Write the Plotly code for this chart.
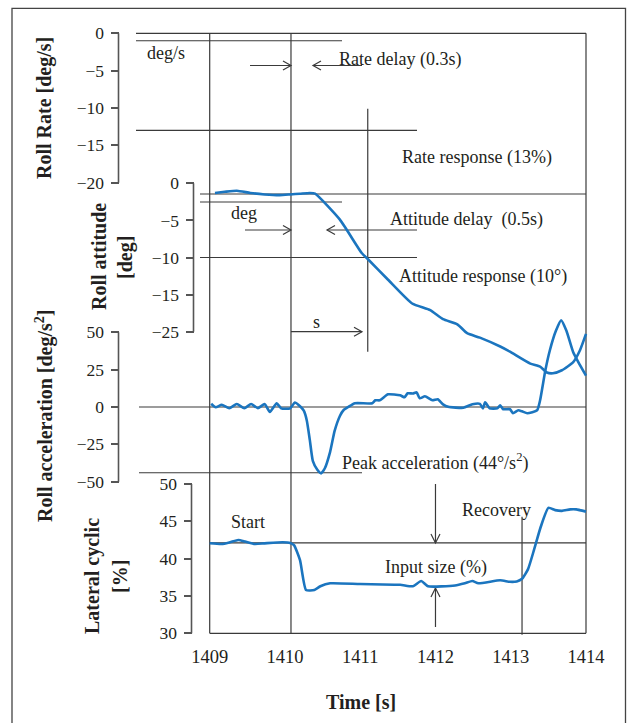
import plotly.graph_objects as go

# ---------------- data ----------------
time_ticks = [1409, 1410, 1411, 1412, 1413, 1414]

rate_ticks = [0, -5, -10, -15, -20]
att_ticks = [0, -5, -10, -15, -20]
att_ticktext = ["0", "\u22125", "\u221210", "\u221215", "\u221225"]
acc_ticks = [50, 25, 0, -25, -50]
cyc_ticks = [50, 45, 40, 35, 30]

att_t = [1409.07, 1409.20, 1409.36, 1409.54, 1409.73, 1409.93, 1410.07, 1410.20, 1410.33, 1410.40,
         1410.73, 1411.02, 1411.10, 1411.37, 1411.69, 1411.93, 1412.10, 1412.29, 1412.42, 1412.59,
         1412.86, 1412.99, 1413.26, 1413.39, 1413.48, 1413.56, 1413.68, 1413.83, 1413.92, 1414.00]
att_v = [-1.3, -1.15, -1.0, -1.3, -1.5, -1.6, -1.5, -1.4, -1.3, -1.4,
         -4.9, -9.4, -10.2, -13.0, -16.2, -17.1, -18.3, -19.0, -20.2, -20.8,
         -22.0, -22.7, -24.3, -24.7, -25.5, -25.6, -25.2, -24.1, -22.5, -20.3]

acc_t = [1409.02, 1409.08, 1409.16, 1409.26, 1409.36, 1409.46, 1409.55, 1409.64, 1409.73, 1409.80,
         1409.89, 1409.95, 1410.07, 1410.13, 1410.20, 1410.25, 1410.29, 1410.33, 1410.37, 1410.43,
         1410.48, 1410.53, 1410.60, 1410.66, 1410.73, 1410.78, 1410.84, 1410.93, 1411.16, 1411.20,
         1411.26, 1411.37, 1411.53, 1411.59, 1411.63, 1411.70, 1411.75, 1411.79, 1411.86, 1411.96,
         1412.03, 1412.10, 1412.17, 1412.37, 1412.49, 1412.59, 1412.63, 1412.66, 1412.72, 1412.82,
         1412.86, 1412.90, 1412.99, 1413.03, 1413.10, 1413.15, 1413.22, 1413.35, 1413.39, 1413.46,
         1413.52, 1413.60, 1413.67, 1413.74, 1413.83, 1413.92, 1414.00]
acc_v = [2.2, -0.2, 1.5, -0.8, 2.0, -0.8, 2.0, -0.8, 2.0, -3.3,
         2.5, -0.9, -0.9, 3.0, 0.5, -2.5, -9, -22, -36, -42,
         -44.4, -41, -30, -16, -6, -2, 0, 2.5, 2.5, 4.5,
         4.5, 8.5, 7.8, 6.5, 9.2, 9.0, 9.8, 5.8, 7.2, 4.5,
         5.2, 1.8, 0.1, -0.5, 1.8, 2.1, -0.9, 3.1, -0.9, -0.9,
         1.1, -1.5, -1.5, -4.2, -2.2, -2.9, -4.2, -2.2, 4.5, 24.6,
         38, 51, 58, 51, 36.6, 28, 21]

cyc_t = [1409.00, 1409.16, 1409.27, 1409.38, 1409.47, 1409.60, 1409.73, 1409.97, 1410.07, 1410.12,
         1410.20, 1410.28, 1410.39, 1410.47, 1410.60, 1411.00, 1411.53, 1411.70, 1411.81, 1411.90,
         1412.26, 1412.39, 1412.49, 1412.57, 1412.86, 1412.99, 1413.08, 1413.15, 1413.23, 1413.31,
         1413.40, 1413.50, 1413.59, 1413.68, 1413.79, 1413.87, 1414.00]
cyc_v = [42.06, 41.96, 42.2, 42.5, 42.3, 41.96, 42.05, 42.2, 42.1, 41.8,
         39.8, 35.8, 35.8, 36.3, 36.7, 36.6, 36.5, 36.3, 37.0, 36.3,
         36.4, 36.7, 37.0, 36.7, 37.1, 36.9, 36.95, 37.3, 38.6, 41.2,
         44.3, 46.8, 46.5, 46.4, 46.6, 46.6, 46.3]

# reference levels / times used by the annotation lines
rate_delay_level = -1
rate_response_level = -13
att_start_level = -1.44
att_delay_level = -2.52
att_response_level = -10
peak_acc = -44
cyc_start_level = 42.1
t_start, t_input, t_response, t_recovery, t_end, t_size = 1409, 1410.08, 1411.1, 1413.15, 1414, 1412.0

# ---------------- geometry ----------------
W, H = 629, 723
X_PX = (1409, 209.7, 1414, 586.0)
Y_PX = {'y': (0, 33.3, -20, 182.7),
        'y2': (0, 183.3, -20, 331.7),
        'y3': (50, 332.3, -50, 481.7),
        'y4': (50, 484.0, 30, 633.3)}
AX_X = {'y': 118.5, 'y2': 193.5, 'y3': 118.5, 'y4': 191.5}

def tval(px):
    a, p1, b, p2 = X_PX
    return a + (px - p1) * (b - a) / (p2 - p1)

def yval(ax, py):
    v1, p1, v2, p2 = Y_PX[ax]
    return v1 + (py - p1) * (v2 - v1) / (p2 - p1)

def ypix(ax, v):
    v1, p1, v2, p2 = Y_PX[ax]
    return p1 + (v - v1) * (p2 - p1) / (v2 - v1)

def cross(a, v, b):
    return yval(b, ypix(a, v))

SERIF = "Liberation Serif, Times New Roman, serif"
TXT = "#231f20"
LC = "#3a3a3a"
AXC = "#555555"
BLUE = "#1b75bf"

fig = go.Figure()
fig.add_trace(go.Scatter(x=[], y=[], xaxis='x', yaxis='y', showlegend=False))
for t, v, ax in [(att_t, att_v, 'y2'), (acc_t, acc_v, 'y3'), (cyc_t, cyc_v, 'y4')]:
    fig.add_trace(go.Scatter(x=t, y=v, xaxis='x', yaxis=ax, mode='lines',
                             line=dict(color=BLUE, width=2.6, shape='spline', smoothing=0.5),
                             showlegend=False, hoverinfo='skip'))

shapes = []

def line(x0, x1, y0, y1, ax, color=LC, width=1.2):
    shapes.append(dict(type='line', xref='x', yref=ax, x0=x0, x1=x1, y0=y0, y1=y1,
                       line=dict(color=color, width=width), layer='below'))

def head(x, y, ax, d):
    paths = {'r': "M -8 4.5 L 0 0 L -8 -4.5", 'l': "M 8 4.5 L 0 0 L 8 -4.5",
             'd': "M -4.5 9 L 0 0 L 4.5 9", 'u': "M -4.5 -9 L 0 0 L 4.5 -9"}
    shapes.append(dict(type='path', xref='x', yref=ax, xsizemode='pixel', ysizemode='pixel',
                       xanchor=x, yanchor=y, path=paths[d],
                       line=dict(color=LC, width=1.2), layer='below'))

L_rate, L_att, L_acc = tval(136), tval(200), tval(139)
# horizontal reference lines
line(L_rate, t_end, 0, 0, 'y')
line(L_rate, tval(342), rate_delay_level, rate_delay_level, 'y')
line(L_rate, tval(417), rate_response_level, rate_response_level, 'y')
line(L_att, t_end, att_start_level, att_start_level, 'y2')
line(L_att, tval(342), att_delay_level, att_delay_level, 'y2')
line(L_att, tval(417), att_response_level, att_response_level, 'y2')
line(L_acc, t_end, 0, 0, 'y3')
line(L_acc, tval(362), peak_acc, peak_acc, 'y3')
line(t_start, t_end, cyc_start_level, cyc_start_level, 'y4')
line(t_start, t_end, 30, 30, 'y4')
# vertical lines
bottom = cross('y4', 30, 'y')
for t in (t_start, t_input, t_end):
    line(t, t, 0, bottom, 'y')
line(t_response, t_response, cross('y', -10.1, 'y2'), -22.7, 'y2')
line(t_recovery, t_recovery, 45.6, 29.8, 'y4')
# arrows
ry = yval('y', 65.5)
line(tval(250), t_input, ry, ry, 'y'); head(t_input, ry, 'y', 'r')
line(tval(313), tval(362), ry, ry, 'y'); head(tval(313), ry, 'y', 'l')
ay = yval('y2', 230)
line(tval(245), t_input, ay, ay, 'y2'); head(t_input, ay, 'y2', 'r')
line(tval(327), tval(417), ay, ay, 'y2'); head(tval(327), ay, 'y2', 'l')
line(t_input, tval(362), -20, -20, 'y2'); head(tval(362), -20, 'y2', 'r')
line(t_size, t_size, 50, cyc_start_level, 'y4'); head(t_size, cyc_start_level, 'y4', 'd')
line(t_size, t_size, yval('y4', 627), yval('y4', 588), 'y4'); head(t_size, yval('y4', 588), 'y4', 'u')

# axis lines
for ax, ticks in [('y', rate_ticks), ('y2', att_ticks), ('y3', acc_ticks), ('y4', cyc_ticks)]:
    shapes.append(dict(type='line', xref='paper', yref=ax, x0=AX_X[ax] / W, x1=AX_X[ax] / W,
                       y0=max(ticks), y1=min(ticks), line=dict(color=AXC, width=1.6), layer='below'))
# outer border
shapes.append(dict(type='rect', xref='paper', yref='paper', x0=12 / W, x1=625.5 / W,
                   y0=-0.02, y1=1 - 8.3 / H, line=dict(color="#444444", width=1.3), layer='below'))

annotations = []

def text(s, t, y, ax, size=18, anchor='left'):
    annotations.append(dict(text=s, x=t, y=y, xref='x', yref=ax, showarrow=False,
                            xanchor=anchor, yanchor='middle',
                            font=dict(family=SERIF, size=size, color=TXT)))

text("deg/s", tval(145), yval('y', 53), 'y')
text("Rate delay (0.3s)", tval(337), yval('y', 59), 'y')
text("Rate response (13%)", tval(400), yval('y', 157), 'y')
text("deg", tval(229), yval('y2', 213), 'y2')
text("Attitude delay\u00a0 (0.5s)", tval(388), yval('y2', 219), 'y2')
text("Attitude response (10\u00b0)", tval(397), yval('y2', 276), 'y2')
text("s", tval(316), yval('y2', 322), 'y2', anchor='center')
text("Peak acceleration (44\u00b0/s<sup>2</sup>)", tval(340), yval('y3', 462), 'y3')
text("Start", tval(229), yval('y4', 522), 'y4')
text("Recovery", tval(460), yval('y4', 510), 'y4')
text("Input size (%)", tval(383), yval('y4', 567), 'y4')

def title(s, px, py, angle=-90):
    annotations.append(dict(text=s, x=px / W, y=1 - py / H, xref='paper', yref='paper',
                            showarrow=False, textangle=angle, xanchor='center', yanchor='middle',
                            font=dict(family=SERIF, size=20, color=TXT)))

title("<b>Roll Rate [deg/s]</b>", 44, 108)
title("<b>Roll attitude</b>", 99, 257)
title("<b>[deg]</b>", 125, 258)
title("<b>Roll acceleration [deg/s<sup>2</sup>]</b>", 45, 416)
title("<b>Lateral cyclic</b>", 92, 576)
title("<b>[%]</b>", 120, 577)
title("<b>Time [s]</b>", 361, 702, angle=0)

def yaxis(ax, ticks, ticktext=None):
    d = dict(range=[yval(ax, H), yval(ax, 0)], domain=[0, 1], anchor='free', position=AX_X[ax] / W,
             showline=False, showgrid=False, zeroline=False, ticks='outside', ticklen=8,
             tickwidth=1.6, tickcolor=AXC, tickmode='array', tickvals=ticks,
             ticktext=ticktext if ticktext else [str(v).replace('-', '\u2212') for v in ticks],
             tickfont=dict(family=SERIF, size=17.5, color=TXT), ticklabelstandoff=3)
    if ax != 'y':
        d['overlaying'] = 'y'
    return d

fig.update_layout(
    width=W, height=H, margin=dict(l=0, r=0, t=0, b=0, pad=0),
    paper_bgcolor='white', plot_bgcolor='rgba(0,0,0,0)', showlegend=False,
    xaxis=dict(range=[tval(0), tval(W)], domain=[0, 1], anchor='free', position=1 - 633.3 / H,
               showline=False, showgrid=False, zeroline=False, ticks='', tickmode='array',
               tickvals=time_ticks, tickfont=dict(family=SERIF, size=18.5, color=TXT),
               ticklabelstandoff=10),
    yaxis=yaxis('y', rate_ticks),
    yaxis2=yaxis('y2', att_ticks, att_ticktext),
    yaxis3=yaxis('y3', acc_ticks),
    yaxis4=yaxis('y4', cyc_ticks),
    shapes=shapes, annotations=annotations,
)

fig.write_html("out.html", config={'displayModeBar': False})
